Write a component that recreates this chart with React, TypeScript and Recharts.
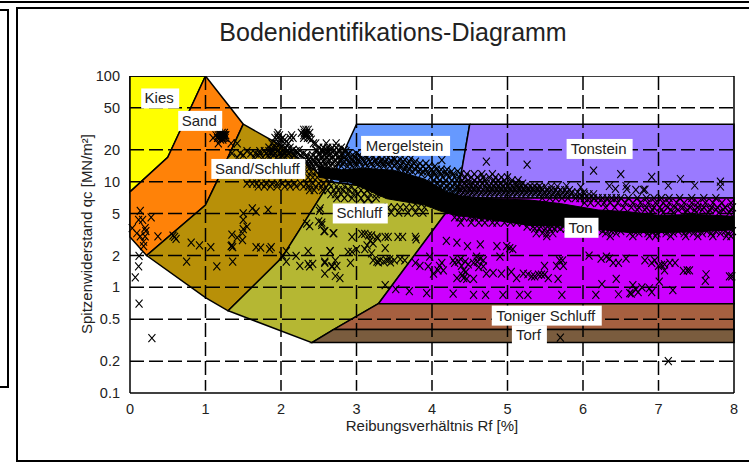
import { ScatterChart, Scatter, XAxis, YAxis } from "recharts";

type Vertex = [number, number];
type Row = [number, number[]];

const FONT = "'Liberation Sans', Arial, sans-serif";
const TEXT = "#222222";

const xTicks = [0, 1, 2, 3, 4, 5, 6, 7, 8];
const yTicks = [0.1, 0.2, 0.5, 1, 2, 5, 10, 20, 50, 100];
const xGrid = [1, 2, 3, 4, 5, 6, 7];
const yGrid = [0.2, 0.5, 1, 2, 5, 10, 20, 50];

// soil zones, Rf [%] / qc [MN/m2]
const kies: Vertex[] = [[0, 100], [1, 100], [0.67, 31], [0.5, 17], [0, 8], [0, 100]];
const sand: Vertex[] = [[0, 8], [0.5, 17], [0.67, 31], [1, 100], [1.33, 50], [1.5, 35], [1.15, 10], [1, 6], [0.22, 2], [0, 3], [0, 8]];
const sandSchluff: Vertex[] = [[1.5, 35], [2, 22], [2.65, 10], [2.01, 1.9], [1.3, 0.6], [1, 0.8], [0.22, 2], [1, 6], [1.15, 10], [1.5, 35]];
const schluff: Vertex[] = [[2.65, 10], [4.33, 7], [3.29, 0.7], [2.7, 0.4], [2.41, 0.3], [1.3, 0.6], [2.01, 1.9], [2.65, 10]];
const mergelstein: Vertex[] = [[2.65, 10], [3, 35], [4.5, 35], [4.33, 7], [2.65, 10]];
const tonstein: Vertex[] = [[4.5, 35], [8, 35], [8, 7], [4.33, 7], [4.5, 35]];
const ton: Vertex[] = [[4.33, 7], [8, 7], [8, 0.7], [3.29, 0.7], [4.33, 7]];
const tonigerSchluff: Vertex[] = [[3.29, 0.7], [8, 0.7], [8, 0.4], [2.7, 0.4], [3.29, 0.7]];
const torf: Vertex[] = [[2.7, 0.4], [8, 0.4], [8, 0.3], [2.41, 0.3], [2.7, 0.4]];

const zoneFills: [Vertex[], string][] = [
  [kies, "#ffff00"],
  [sand, "#ff8208"],
  [sandSchluff, "#b89008"],
  [schluff, "#b5b733"],
  [mergelstein, "#6699ff"],
  [tonstein, "#9a7aff"],
  [ton, "#cc00ff"],
  [tonigerSchluff, "#a66040"],
  [torf, "#7a5c3e"],
];

const zoneNames = ["Kies", "Sand", "Sand/Schluff", "Schluff", "Mergelstein", "Tonstein", "Ton", "Toniger Schluff", "Torf"];
const zoneLabelRf = [0.4, 0.93, 1.7, 3.05, 3.65, 6.22, 5.98, 5.52, 5.29];
const zoneLabelQc = [61.3, 37.6, 13.2, 5, 21.8, 20.4, 3.66, 0.54, 0.352];
const zoneLabelWidth = [38, 44, 94, 55, 89, 66, 34, 110, 35];

// solid part of the measurement band, where the x marks merge into one black mass
const bandCore: Vertex[] = [
  [2.5, 14], [2.8, 13], [3.1, 13.4], [3.5, 12.8], [3.9, 10.6], [4.2, 8], [4.4, 7.3], [4.8, 6.9], [5.3, 6.7], [5.7, 6.2], [6.2, 5.4], [6.6, 5.2], [7, 4.8], [7.5, 4.9], [8, 4.7],
  [8, 3.5], [7.5, 3.35], [7, 3.3], [6.6, 3.3], [6.2, 3.55], [5.7, 3.8], [5.3, 3.85], [4.8, 4.35], [4.3, 4.8], [4.1, 5.3], [3.9, 6], [3.4, 6.9], [3.1, 8.6], [2.9, 10], [2.5, 11], [2.5, 14],
];

const sparseLeft: Vertex[] = [
  [0.136, 5.3], [0.114, 4.35], [0.167, 4.35], [0.28, 4.6], [0.03, 3.63], [0.09, 3.25], [0.2, 3.63], [0.21, 3.4], [0.2, 3.03], [0.18, 2.7],
  [0.18, 2.45], [0.136, 3.03], [0.37, 3.03], [0.57, 3.08], [0.59, 3], [0.61, 2.88], [0.12, 1.98], [0.114, 1.58], [0.07, 1.24], [0.12, 0.7], [0.29, 0.33],
];

const sparseSandSchluff: Vertex[] = [
  [0.81, 2.65], [0.92, 2.5], [1.07, 2.4], [0.75, 1.75], [1.15, 1.58], [1.36, 1.75], [1.34, 2.45], [1.36, 2.4], [1.35, 2.5], [1.35, 3.15],
  [1.42, 2.95], [1.49, 2.8], [1.49, 3.25], [1.5, 3.55], [1.55, 3.75], [1.5, 4.35], [1.5, 5], [1.62, 5.6], [1.67, 5.2], [1.83, 5.4],
  [1.67, 2.4], [1.73, 2.38], [1.85, 2.3], [1.87, 2.4], [2.07, 2.2], [2.02, 2], [2.07, 1.75],
];

const sparseSchluff: Vertex[] = [
  [2.2, 1.98], [2.25, 1.6], [2.36, 2.2], [2.36, 1.67], [2.38, 1.58], [2.42, 1.67], [2.58, 1.75], [2.58, 1.35], [2.65, 2.2], [2.68, 1.58],
  [2.51, 5.3], [2.34, 4], [2.38, 3.8], [2.5, 4.2], [2.54, 3.9], [2.57, 3.4], [2.69, 3.25], [2.52, 5.6], [2.54, 4.1], [2.58, 3.4], [2.7, 3.25],
  [2.94, 3], [3.07, 3.2], [3.11, 3.2], [3.16, 3.1], [3.2, 3.1], [3.27, 3], [3.38, 3], [3.42, 3], [3.55, 3], [3.61, 3], [3.78, 3], [3.79, 2.85],
  [3.14, 2.5], [3.22, 2.6], [3.38, 2.35], [3.18, 2.75], [3.28, 2.9], [2.65, 2.2], [2.89, 2.17], [2.94, 2.17], [3, 2.3], [3.11, 2.3], [3.2, 2.1],
  [3.22, 1.8], [3.27, 1.75], [3.31, 1.8], [3.36, 1.75], [3.4, 1.8], [3.45, 1.72], [3.5, 1.8], [3.58, 1.85], [3.29, 1.72], [3.44, 1.85], [3.64, 1.8],
  [2.58, 1.7], [2.72, 1.8], [2.67, 1.58], [2.74, 1.6], [2.92, 1.7], [2.72, 1.28], [2.78, 1.22], [3.38, 1.05], [3.52, 0.96], [3.7, 0.92], [3.93, 0.88],
];

const sparseTon: Vertex[] = [
  [4.28, 0.87], [4.55, 0.85], [4.71, 0.85], [4.94, 0.85], [5.16, 0.85], [5.27, 0.85], [4.19, 2.75], [4.33, 2.65], [4.47, 2.45], [4.64, 2.55],
  [4.86, 2.45], [4.99, 2.45], [5.03, 2.35], [5.07, 2.3], [3.97, 1.95], [3.78, 1.7], [3.84, 1.6], [3.95, 1.58], [4.02, 1.35], [4.08, 1.45], [4.13, 1.7],
  [4.15, 1.45], [4.28, 1.8], [4.35, 1.75], [4.44, 1.75], [4.55, 1.7], [4.59, 1.95], [4.64, 1.87], [4.68, 1.8], [4.68, 1.58], [4.42, 1.45], [4.39, 1.6],
  [4.33, 1.22], [4.42, 1.22], [4.46, 1.2], [4.55, 1.2], [4.72, 1.35], [4.81, 1.37], [4.92, 1.35], [4.9, 1.95], [5.05, 1.4], [5.12, 1.22], [5.21, 1.35],
  [5.27, 1.33], [4.3, 1.7], [4.38, 1.85], [4.48, 1.65], [4.6, 1.75], [4.62, 1.55], [4.45, 1.4], [4.4, 1.3], [4.1, 1.6], [5.32, 1.27], [5.36, 1.27],
  [5.41, 1.32], [5.45, 1.32], [5.49, 1.32], [5.54, 1.22], [5.49, 1.6], [5.65, 1.6], [5.69, 1.8], [5.74, 1.6], [5.73, 1.8], [5.67, 1.2], [5.72, 0.85],
  [6.08, 2], [6.24, 1.87], [6.31, 1.95], [6.35, 1.87], [6.4, 1.7], [6.47, 1.7], [6.57, 1.87], [6.82, 1.8], [6.91, 1.7], [6.95, 1.8], [7, 1.6],
  [7.04, 1.63], [7.08, 1.65], [7.08, 1.45], [7.15, 1.7], [7.22, 1.7], [7.33, 1.43], [7.38, 1.45], [7.41, 1.45], [7.63, 1.33], [7.62, 1.15], [7.94, 1.27],
  [7.97, 1.27], [7.01, 1.13], [7.19, 0.94], [6.25, 1.07], [6.44, 1.2], [6.66, 1.05], [6.78, 1], [6.88, 0.98], [6.91, 0.9], [6.73, 0.9], [6.64, 0.87],
  [6.47, 0.86], [6.17, 0.85], [6.62, 0.88], [6.7, 0.95], [5.7, 0.334], [7.13, 0.2],
];

const sparseTonstein: Vertex[] = [
  [3.49, 16.8], [3.72, 16.5], [4.13, 16], [4.72, 15.5], [5.26, 14.5], [6.14, 12.7], [6.5, 11.8], [6.91, 11.1], [7.29, 10.6], [7.13, 9.2], [7.48, 9.2],
  [7.82, 10], [7.82, 9], [6.35, 9.1], [6.43, 8.55], [6.57, 9.1], [6.58, 8.5], [6.7, 8.35], [6.8, 8.35], [6.82, 8.4], [5.78, 9.1], [5.97, 8.9],
];

const upperBandRows: Row[] = [
  [31, [2.3, 2.33, 2.36]],
  [29, [1.18, 1.22, 1.25, 1.96, 2.27, 2.31, 2.34, 2.38]],
  [27.5, [1.14, 1.17, 1.19, 1.2, 1.21, 1.22, 1.23, 1.24, 1.25, 1.26, 1.27, 1.95, 1.98, 2.14, 2.3, 2.32, 2.34]],
  [26, [1.1, 1.16, 1.19, 1.22, 1.24, 1.26, 1.92, 1.96, 2.02, 2.12, 2.16, 2.3, 2.35, 2.38]],
  [25, [1.2, 1.23, 2, 2.05, 2.4]],
  [23, [1.17, 1.34, 1.42, 1.88, 1.93, 1.98, 2.05, 2.1, 2.43, 2.46, 2.6, 2.73]],
  [21, [1.84, 1.9, 1.94, 2, 2.06, 2.12, 2.5, 2.56, 2.62, 2.68, 2.73, 2.8]],
  [20, [1.88, 1.97, 2.04, 2.16, 2.24, 2.46, 2.54, 2.6, 2.66, 2.76, 2.84]],
  [19.5, [1.55, 1.72, 1.78, 1.84, 1.9, 1.95, 2.02, 2.08, 2.14, 2.2, 2.48, 2.56, 2.62, 2.7, 2.78, 2.86]],
  [18.5, [1.35, 1.46, 1.6, 1.66, 1.72, 1.8, 1.86, 1.92, 1.98, 2.04, 2.1, 2.16, 2.22, 2.3, 2.52, 2.6, 2.66, 2.74, 2.82, 2.9, 3]],
  [17.8, [1.5, 1.7, 1.83, 1.9, 2.01, 2.08, 2.18, 2.26, 2.34, 2.42, 2.5, 2.58, 2.64, 2.72, 2.8, 2.88, 2.95, 3.04, 3.12]],
  [17, [1.42, 1.64, 1.76, 1.84, 1.94, 2, 2.06, 2.14, 2.2, 2.28, 2.34, 2.4, 2.46, 2.54, 2.6, 2.68, 2.76, 2.84, 2.92, 2.98, 3.06, 3.14, 3.22, 3.3, 3.42]],
  [16.2, [2.32, 2.37, 2.43, 2.49, 2.57, 2.64, 2.72, 2.79, 2.86, 2.94, 3.02, 3.09, 3.16, 3.26, 3.34, 3.4, 3.5, 3.58, 3.64]],
  [15.5, [2.34, 2.38, 2.44, 2.5, 2.56, 2.62, 2.7, 2.78, 2.84, 2.9, 2.96, 3.04, 3.1, 3.18, 3.24, 3.32, 3.38, 3.46, 3.54, 3.62, 3.7, 3.78]],
  [14.8, [2.36, 2.41, 2.47, 2.53, 2.59, 2.67, 2.75, 2.82, 2.92, 3, 3.12, 3.2, 3.28, 3.36, 3.42, 3.52, 3.6, 3.68, 3.76, 3.84, 3.92]],
  [14, [2.36, 2.42, 2.48, 2.54, 2.6, 2.66, 2.72, 2.8, 2.88, 2.94, 3, 3.08, 3.14, 3.22, 3.3, 3.36, 3.44, 3.5, 3.58, 3.66, 3.72, 3.8, 3.88, 3.96, 4.04]],
  [13, [3.56, 3.64, 3.7, 3.78, 3.84, 3.92, 3.99, 4.06, 4.12, 4.2]],
  [12.5, [2.34, 2.4, 2.46, 3.62, 3.68, 3.74, 3.82, 3.88, 3.94, 4.02, 4.1, 4.18, 4.26, 4.34]],
  [11.8, [3.86, 3.95, 4.04, 4.12, 4.2, 4.28, 4.38, 4.46, 4.56, 4.66, 4.8]],
  [11, [2.36, 2.42, 2.48, 3.98, 4.06, 4.14, 4.22, 4.3, 4.36, 4.44, 4.52, 4.6, 4.68, 4.76, 4.84, 4.92, 5]],
  [10.3, [4.02, 4.1, 4.18, 4.26, 4.33, 4.4, 4.48, 4.56, 4.64, 4.7, 4.82, 4.88, 4.96, 5.06, 5.14]],
  [9.6, [1.55, 1.62, 1.68, 1.74, 1.8, 1.88, 1.95, 2.02, 2.1, 2.18, 2.26, 2.34, 2.42, 2.5, 2.56, 2.64, 4, 4.08, 4.16, 4.24, 4.3, 4.36, 4.42, 4.48, 4.54, 4.6, 4.66, 4.72, 4.78, 4.84, 4.9, 4.98, 5.04, 5.12, 5.2]],
  [9, [1.7, 1.78, 1.86, 1.95, 2.05, 2.12, 2.2, 2.3, 2.36, 2.46, 2.54, 2.66, 2.74, 2.84, 2.92, 4.02, 4.1, 4.2, 4.28, 4.35, 4.4, 4.46, 4.52, 4.58, 4.64, 4.7, 4.76, 4.82, 4.88, 4.94, 5, 5.06, 5.12, 5.18, 5.24, 5.3, 5.36, 5.42, 5.5, 5.58, 5.66]],
  [8.7, [4.16, 4.24, 4.33, 4.42, 4.49, 4.55, 4.61, 4.73, 4.79, 4.85, 4.91, 4.97, 5.03, 5.09, 5.15, 5.21, 5.27, 5.33, 5.39, 5.45]],
  [8.3, [2.38, 2.44, 2.55, 2.62, 2.7, 2.76, 2.82, 2.9, 2.98, 3.06, 3.14, 4.06, 4.14, 4.22, 4.3, 4.38, 4.44, 4.5, 4.56, 4.62, 4.68, 4.74, 4.8, 4.86, 4.92, 4.98, 5.04, 5.1, 5.16, 5.22, 5.28, 5.34, 5.4, 5.46, 5.52, 5.58, 5.64, 5.7, 5.76, 5.82]],
  [7.9, [4.27, 4.35, 4.41, 4.47, 4.53, 4.59, 4.65, 4.71, 4.77, 4.83, 4.89, 4.95, 5.01, 5.07, 5.13, 5.19, 5.25, 5.31, 5.37, 5.43, 5.49, 5.55, 5.61, 5.67, 5.73, 5.79, 5.85, 5.93, 6.01]],
  [7.6, [2.66, 2.72, 2.8, 2.88, 2.96, 3.02, 3.1, 3.18, 3.26, 3.34, 4.32, 4.4, 4.46, 4.52, 4.58, 4.64, 4.7, 4.76, 4.82, 4.88, 4.94, 5, 5.06, 5.12, 5.18, 5.24, 5.3, 5.36, 5.42, 5.48, 5.54, 5.6, 5.66, 5.72, 5.78, 5.84, 5.9, 5.96, 6.02, 6.08, 6.14]],
  [7, [2.74, 2.84, 2.94, 3.06, 3.16, 3.26, 5.46, 5.56, 5.64, 5.72, 5.8, 5.9, 5.96, 6.02, 6.08, 6.14, 6.2, 6.26, 6.32, 6.38, 6.44, 6.5, 6.6, 6.72, 6.84, 6.94, 7.04, 7.14, 7.28, 7.44, 7.6, 7.76]],
  [6.3, [3.1, 3.2, 6.02, 6.1, 6.2, 6.28, 6.36, 6.46, 6.56, 6.66, 6.76, 6.86, 6.96, 7.06, 7.14, 7.24, 7.34, 7.44, 7.52, 7.62, 7.72, 7.84, 7.96]],
  [5.7, [3.42, 3.5, 3.58, 3.66, 3.74, 3.82, 3.9, 6.3, 6.42, 6.54, 6.64, 6.74, 6.84, 6.94, 7.02, 7.12, 7.22, 7.32, 7.42, 7.52, 7.6, 7.7, 7.78, 7.88, 7.98]],
  [5.4, [6.72, 6.82, 6.92, 7.04, 7.16, 7.26, 7.38, 7.48, 7.58, 7.68, 7.76, 7.86, 7.96]],
  [5.1, [3.46, 3.56, 3.68, 3.78, 3.88, 6.9, 7.06, 7.2, 7.36, 7.5, 7.66, 7.8, 7.94]],
];

const lowerBandRows: Row[] = [
  [4.6, [4.3, 4.36, 4.42, 4.5, 4.56, 4.62, 4.7, 4.78, 4.84, 4.92, 5, 5.08, 5.16, 5.24]],
  [4.1, [4.38, 4.52, 4.62, 4.7, 4.8, 4.86, 4.96, 5.04, 5.12, 5.2, 5.28, 5.36, 5.44, 5.52, 5.6, 5.68]],
  [3.75, [5.26, 5.34, 5.44, 5.53, 5.59, 5.66, 5.74, 5.82, 6.06, 6.14, 6.24, 6.36, 6.48, 6.58]],
  [3.6, [5.36, 5.42, 5.5, 5.56, 5.62, 5.7, 5.78, 5.9, 6.02, 6.1, 6.2, 6.3, 6.4]],
  [3.4, [6.26, 6.38, 6.5, 6.68, 6.8, 6.92, 7.04, 7.14, 7.26, 7.4, 7.52, 7.64, 7.76, 7.88, 7.98]],
  [3.25, [5.38, 5.46, 5.52, 5.6, 6.3, 6.44, 6.62, 6.74, 6.86, 6.98, 7.1, 7.2, 7.34, 7.46, 7.58, 7.7, 7.82, 7.92]],
  [3.05, [5.52, 6.36, 6.66, 6.88, 6.96, 7.16, 7.36, 7.52, 7.72, 7.9, 7.96]],
];

const toPoints = (list: Vertex[]) => list.map(([x, y]) => ({ x, y }));
const rowPoints = (rows: Row[]) => rows.flatMap(([qc, rfs]) => rfs.map((rf) => ({ x: rf, y: qc })));

const measurements = [
  ...toPoints(sparseLeft),
  ...toPoints(sparseSandSchluff),
  ...toPoints(sparseSchluff),
  ...toPoints(sparseTon),
  ...toPoints(sparseTonstein),
  ...rowPoints(upperBandRows),
  ...rowPoints(lowerBandRows),
];

const zoneLabels = zoneNames.map((name, i) => ({ x: zoneLabelRf[i], y: zoneLabelQc[i], name, w: zoneLabelWidth[i] }));

function Cross({ cx, cy }: any) {
  return <path d={`M${cx - 3.5} ${cy - 4}L${cx + 3.5} ${cy + 4}M${cx + 3.5} ${cy - 4}L${cx - 3.5} ${cy + 4}`} stroke="#000" strokeWidth={1.1} fill="none" />;
}

function ZoneLabel({ cx, cy, payload }: any) {
  return (
    <g>
      <rect x={cx - payload.w / 2} y={cy - 10} width={payload.w} height={20} fill="#fff" />
      <text x={cx - 1} y={cy + 5} textAnchor="middle" fontFamily={FONT} fontSize={15} fill={TEXT}>{payload.name}</text>
    </g>
  );
}

const noMark = () => <g />;

function Frame({ style }: { style: React.CSSProperties }) {
  return <div style={{ position: "absolute", background: "#000", ...style }} />;
}

export default function App() {
  return (
    <div style={{ position: "fixed", left: 0, top: 0, width: 749, height: 463, background: "#fff", overflow: "hidden" }}>
      <Frame style={{ left: 0, top: 1, width: 749, height: 2 }} />
      <Frame style={{ left: 16, top: 7, width: 733, height: 2 }} />
      <Frame style={{ left: 0, top: 9, width: 9, height: 2 }} />
      <Frame style={{ left: 7, top: 9, width: 2, height: 379 }} />
      <Frame style={{ left: 0, top: 386, width: 9, height: 2 }} />
      <Frame style={{ left: 16, top: 7, width: 2, height: 455 }} />
      <Frame style={{ left: 16, top: 460, width: 733, height: 2 }} />
      <div style={{ position: "absolute", left: 0, width: 786, top: 18, textAlign: "center", fontFamily: FONT, fontSize: 25, color: TEXT }}>
        Bodenidentifikations-Diagramm
      </div>
      <div style={{ position: "absolute", left: 0, width: 864, top: 417, textAlign: "center", fontFamily: FONT, fontSize: 15, color: TEXT }}>
        Reibungsverhältnis Rf [%]
      </div>
      <div style={{ position: "absolute", left: 86, top: 234, width: 0, height: 0 }}>
        <div style={{ position: "absolute", transform: "translate(-50%, -50%) rotate(-90deg)", whiteSpace: "nowrap", fontFamily: FONT, fontSize: 15, color: TEXT }}>
          Spitzenwiderstand qc [MN/m²]
        </div>
      </div>
      <div style={{ position: "absolute", left: 0, top: 0 }}>
        <ScatterChart width={749} height={463} margin={{ top: 76, right: 15, bottom: 40, left: 80 }}>
          <XAxis
            type="number"
            dataKey="x"
            domain={[0, 8]}
            ticks={xTicks}
            interval={0}
            height={30}
            tickLine={false}
            tickMargin={5}
            axisLine={{ stroke: "#000", strokeWidth: 1.5 }}
            tick={{ fontFamily: FONT, fontSize: 14.5, fill: TEXT }}
          />
          <YAxis
            type="number"
            dataKey="y"
            scale="log"
            domain={[0.1, 100]}
            allowDataOverflow
            ticks={yTicks}
            interval={0}
            width={50}
            tickLine={false}
            tickMargin={4}
            axisLine={{ stroke: "#000", strokeWidth: 1.5 }}
            tick={{ fontFamily: FONT, fontSize: 14.5, fill: TEXT }}
          />
          {zoneFills.map(([zone, color], i) => (
            <Scatter
              key={i}
              data={toPoints(zone)}
              shape={noMark}
              line={{ fill: color, stroke: "#000", strokeWidth: 1.5 }}
              isAnimationActive={false}
            />
          ))}
          {xGrid.map((rf) => (
            <Scatter
              key={`x${rf}`}
              data={[{ x: rf, y: 100 }, { x: rf, y: 0.105 }]}
              shape={noMark}
              line={{ stroke: "#000", strokeWidth: 1.5, strokeDasharray: "14 5" }}
              isAnimationActive={false}
            />
          ))}
          {yGrid.map((qc) => (
            <Scatter
              key={`y${qc}`}
              data={[{ x: 0, y: qc }, { x: 8, y: qc }]}
              shape={noMark}
              line={{ stroke: "#000", strokeWidth: 1.5, strokeDasharray: "14 5" }}
              isAnimationActive={false}
            />
          ))}
          <Scatter
            data={[{ x: 0, y: 100 }, { x: 8, y: 100 }, { x: 8, y: 0.1 }]}
            shape={noMark}
            line={{ stroke: "#000", strokeWidth: 1.5 }}
            isAnimationActive={false}
          />
          <Scatter data={toPoints(bandCore)} shape={noMark} line={{ fill: "#000", stroke: "#000", strokeWidth: 1 }} isAnimationActive={false} />
          <Scatter data={measurements} shape={Cross} isAnimationActive={false} />
          <Scatter data={zoneLabels} shape={ZoneLabel} isAnimationActive={false} />
        </ScatterChart>
      </div>
    </div>
  );
}
